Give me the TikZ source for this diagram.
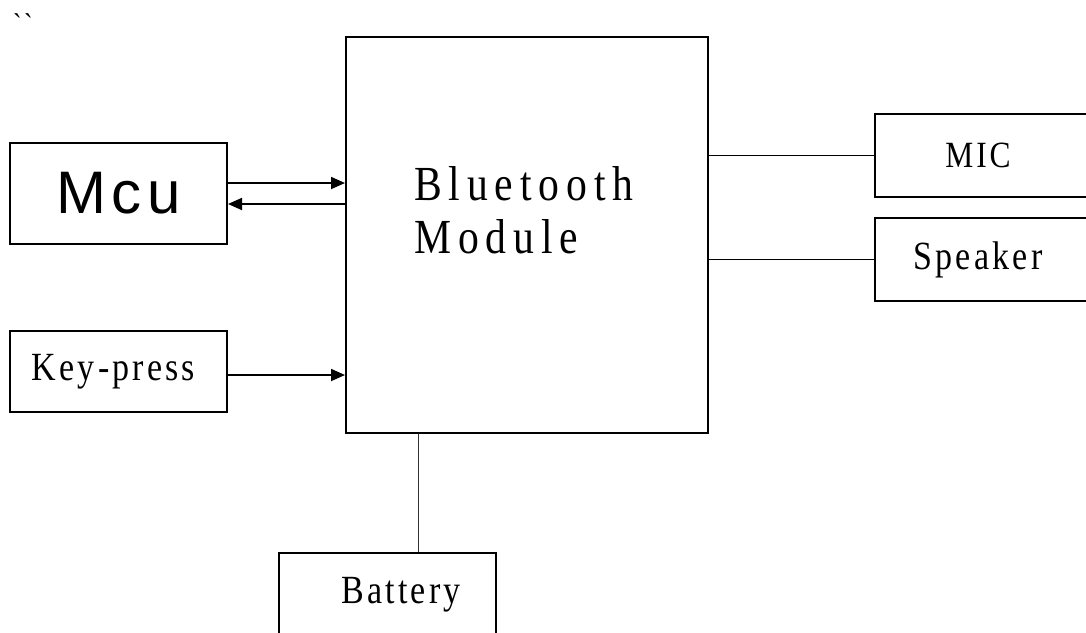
\documentclass[tikz,border=0pt]{standalone}
\usepackage{fontspec}
\usetikzlibrary{arrows.meta}
\setmainfont{Liberation Serif}
\newfontfamily\labelfont[FakeStretch=0.85,LetterSpace=8]{Liberation Serif}
\newfontfamily\titlefont[FakeStretch=0.85,LetterSpace=14]{Liberation Serif}
\newfontfamily\mcufont[LetterSpace=9]{Liberation Sans}

\begin{document}
\begin{tikzpicture}[
    x=1pt, y=-1pt,
    block/.style={
        rectangle,
        draw=black,
        line width=2pt,
        minimum width=217pt,
        inner sep=0pt
    },
    module block/.style={
        block,
        minimum width=362pt,
        minimum height=396pt
    },
    small label/.style={
        font=\labelfont\fontsize{40}{46}\selectfont
    },
    title label/.style={
        font=\titlefont\fontsize{49}{56}\selectfont,
        anchor=base west,
        inner sep=0pt
    },
    signal/.style={
        -{Triangle[length=14pt,width=12pt]},
        line width=1.8pt
    },
    wire/.style={
        line width=1.8pt
    },
    supply/.style={
        line width=0.9pt,
        black!80
    }
]

\def\pairsep{10.5}

\useasboundingbox (0,0) rectangle (1086,632);
\clip (0,0) rectangle (1086,632);

%% --- Marque ---
\node[font=\labelfont\fontsize{30}{36}\selectfont, anchor=north west, inner sep=0pt]
    (tick) at (13,13) {\char96\char96};

%% --- Module central ---
\node[module block] (BT) at (527,235) {};
\node[title label] (BTa) at (414,200) {Bluetooth};
\node[title label] (BTb) at (414,253) {Module};

%% --- Gauche ---
\node[block, minimum height=101pt, font=\mcufont\fontsize{60}{70}\selectfont]
    (MCU) at (118.5,193.5) {Mcu};
\node[block, minimum height=81pt, small label] (KEY) at (118.5,371.5) {\hspace*{-10pt}Key-press};

%% --- Droite ---
\node[block, minimum height=83pt, font=\labelfont\fontsize{37}{42}\selectfont]
    (MIC) at (983.5,155.5) {\hspace*{-11pt}MIC};
\node[block, minimum height=83pt, small label] (SPK) at (983.5,259.5) {\hspace*{-11pt}Speaker};

%% --- Bas ---
\node[block, minimum height=84pt, small label] (BAT) at (387.5,595) {\hspace*{27pt}Battery};

%% --- Connexions ---
\draw[signal] ([yshift=\pairsep pt]MCU.east) -- ([yshift=\pairsep pt]MCU.east -| BT.west);
\draw[signal] ([yshift=-\pairsep pt]MCU.east -| BT.west) -- ([yshift=-\pairsep pt]MCU.east);
\draw[signal] ([yshift=-3.5pt]KEY.east) -- ([yshift=-3.5pt]KEY.east -| BT.west);
\draw[wire] (MIC.west -| BT.east) -- (MIC.west);
\draw[wire] (SPK.west -| BT.east) -- (SPK.west);
\draw[supply] ([xshift=30.5pt]BAT.north |- BT.south) -- ([xshift=30.5pt]BAT.north);

\end{tikzpicture}
\end{document}
